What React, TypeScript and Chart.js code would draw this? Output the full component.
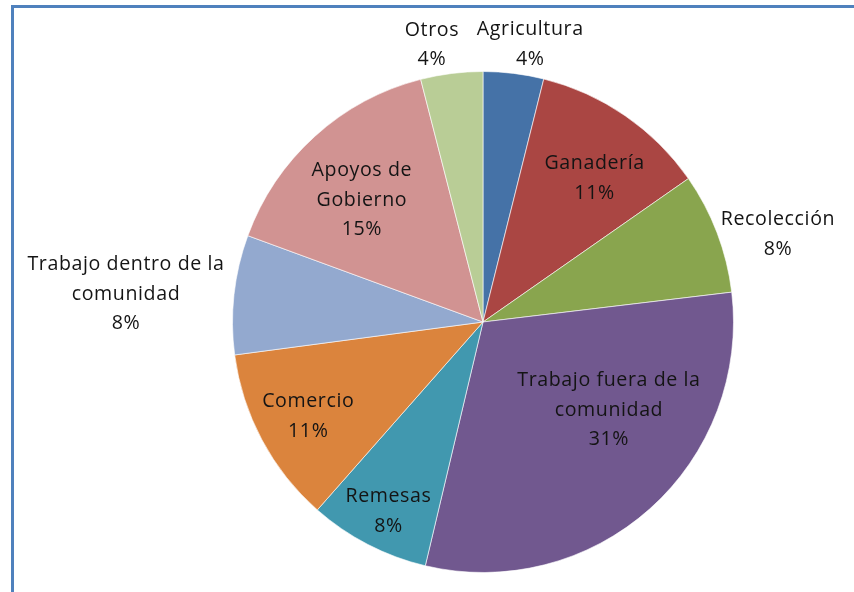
import React, { useEffect, useRef } from "react";
import { Chart, registerables } from "chart.js";

Chart.register(...registerables);

const categories = [
  "Agricultura",
  "Ganadería",
  "Recolección",
  "Trabajo fuera de la comunidad",
  "Remesas",
  "Comercio",
  "Trabajo dentro de la comunidad",
  "Apoyos de Gobierno",
  "Otros",
];

const values = [3.9, 11.4, 7.8, 30.6, 7.8, 11.4, 7.7, 15.4, 4.0];

const percentLabels = ["4%", "11%", "8%", "31%", "8%", "11%", "8%", "15%", "4%"];

// label text lines (category name split as in the original)
const labelLines = [
  ["Agricultura"],
  ["Ganadería"],
  ["Recolección"],
  ["Trabajo fuera de la", "comunidad"],
  ["Remesas"],
  ["Comercio"],
  ["Trabajo dentro de la", "comunidad"],
  ["Apoyos de", "Gobierno"],
  ["Otros"],
];

const colors = [
  "#4572A7",
  "#AA4643",
  "#89A54E",
  "#71588F",
  "#4198AF",
  "#DB843D",
  "#93A9CF",
  "#D19392",
  "#B9CD96",
];

// label placement: distance from centre (in radii) and angle (deg, clockwise from top)
const labelRadius = [1.13, 0.73, 1.23, 0.61, 0.84, 0.79, 1.43, 0.69, 1.13];
const labelAngle = [9.6, 37.6, 73.2, 124.5, 206.7, 242, 274.7, 315.5, 349.6];

const FONT = "19.6px 'Open Sans', Lato, sans-serif";
const LINE_H = 29.5;

const labelPlugin = {
  id: "sliceLabels",
  afterDatasetsDraw(chart: any) {
    const meta = chart.getDatasetMeta(0);
    const arc = meta.data[0];
    if (!arc) return;
    const cx = arc.x;
    const cy = arc.y;
    const r = arc.outerRadius;
    const ctx = chart.ctx;
    ctx.save();
    ctx.font = FONT;
    (ctx as any).letterSpacing = "0.6px";
    ctx.fillStyle = "#141414";
    ctx.textAlign = "center";
    ctx.textBaseline = "middle";
    categories.forEach((_, i) => {
      const a = (labelAngle[i] * Math.PI) / 180;
      const d = labelRadius[i] * r;
      const x = cx + d * Math.sin(a);
      const y = cy - d * Math.cos(a) + 1.5;
      const lines = [...labelLines[i], percentLabels[i]];
      const top = y - ((lines.length - 1) * LINE_H) / 2;
      lines.forEach((t, k) => ctx.fillText(t, x, top + k * LINE_H));
    });
    ctx.restore();
  },
};

export default function App() {
  const ref = useRef<HTMLCanvasElement | null>(null);

  useEffect(() => {
    document.body.style.margin = "0";
    const canvas = ref.current;
    if (!canvas) return;
    const chart = new Chart(canvas, {
      type: "pie",
      data: {
        labels: categories,
        datasets: [
          {
            data: values,
            backgroundColor: colors,
            borderColor: "rgba(255,255,255,0.6)",
            borderWidth: 1,
          },
        ],
      },
      options: {
        animation: false,
        responsive: false,
        maintainAspectRatio: false,
        layout: { padding: { left: 232, right: 120, top: 71, bottom: 19 } },
        plugins: {
          legend: { display: false },
          tooltip: { enabled: false },
        },
      },
      plugins: [labelPlugin],
    });
    return () => chart.destroy();
  }, []);

  return (
    <div style={{ position: "relative", width: 854, height: 592, background: "#fff", overflow: "hidden" }}>
      <div
        style={{
          position: "absolute",
          left: 11,
          top: 5,
          width: 900,
          height: 700,
          borderLeft: "3px solid #4F81BD",
          borderTop: "3px solid #4F81BD",
        }}
      />
      <canvas ref={ref} width={854} height={592} style={{ position: "absolute", left: 0, top: 0 }} />
    </div>
  );
}
